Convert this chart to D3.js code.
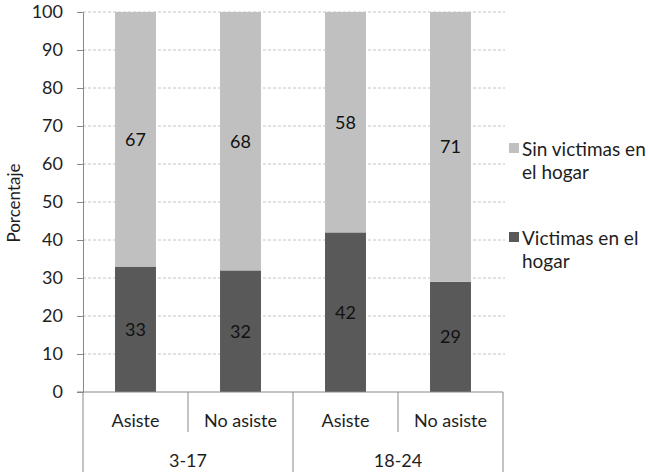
<!DOCTYPE html>
<html><head><meta charset="utf-8">
<script src="https://cdn.jsdelivr.net/npm/d3@7"></script>
<style>body{margin:0;background:#fff}svg{display:block}text{font-family:Lato,"Open Sans",sans-serif}</style>
</head><body><svg id="c" width="648" height="472"></svg>
<script>
const groups = ["3-17", "18-24"];
const categories = ["Asiste", "No asiste", "Asiste", "No asiste"];
const catGroup = [0, 0, 1, 1];
const victimas = [33, 32, 42, 29];
const sinVictimas = [67, 68, 58, 71];
const yTicks = [0, 10, 20, 30, 40, 50, 60, 70, 80, 90, 100];
const legendLabels = [["Sin victimas en", "el hogar"], ["Victimas en el", "hogar"]];
const colors = {sin: "#c0c0c0", vic: "#595959"};

const svg = d3.select("#c");
const L = 83, R = 503, T = 12, B = 392;
const idx = categories.map((d, i) => i);
const x = d3.scaleBand().domain(idx).range([L, R]).paddingInner(0.61).paddingOuter(0.305);
const xb = d3.scaleBand().domain(idx).range([L, R]);
const y = d3.scaleLinear().domain([0, 100]).range([B, T]);
const txt = "#1e1e1e";

// gridlines
svg.append("g").selectAll("line").data(yTicks.filter(d => d > 0)).join("line")
  .attr("x1", L).attr("x2", R + 2).attr("y1", d => y(d)).attr("y2", d => y(d))
  .attr("stroke", "#c4c4c4").attr("stroke-width", 1).attr("stroke-dasharray", "3,2");

// bars
const bars = svg.append("g");
idx.forEach(i => {
  bars.append("rect").attr("x", x(i)).attr("width", x.bandwidth())
    .attr("y", y(victimas[i])).attr("height", y(0) - y(victimas[i])).attr("fill", colors.vic);
  bars.append("rect").attr("x", x(i)).attr("width", x.bandwidth())
    .attr("y", y(victimas[i] + sinVictimas[i])).attr("height", y(victimas[i]) - y(victimas[i] + sinVictimas[i])).attr("fill", colors.sin);
  bars.append("text").attr("x", x(i) + x.bandwidth() / 2).attr("y", (y(0) + y(victimas[i])) / 2)
    .attr("dy", "0.35em").attr("text-anchor", "middle").attr("font-size", 18).attr("fill", "#111").text(victimas[i]);
  bars.append("text").attr("x", x(i) + x.bandwidth() / 2).attr("y", (y(victimas[i]) + y(100)) / 2)
    .attr("dy", "0.35em").attr("text-anchor", "middle").attr("font-size", 18).attr("fill", "#111").text(sinVictimas[i]);
});

// y axis
const yAxis = svg.append("g").attr("transform", `translate(${L},0)`)
  .call(d3.axisLeft(y).tickValues(yTicks).tickSize(6).tickPadding(14));
yAxis.select(".domain").attr("stroke", "#888");
yAxis.selectAll(".tick line").attr("stroke", "#888");
yAxis.selectAll("text").attr("font-size", 18).attr("fill", txt).style("font-family", "Lato, sans-serif");

// x axis line
svg.append("line").attr("x1", L - 6).attr("x2", R).attr("y1", B).attr("y2", B).attr("stroke", "#888");
// category separators
idx.forEach(i => {
  const xs = xb(i);
  const full = i === 0 || catGroup[i] !== catGroup[i - 1];
  svg.append("line").attr("x1", xs).attr("x2", xs).attr("y1", B).attr("y2", full ? 472 : 432).attr("stroke", "#888");
});
svg.append("line").attr("x1", R).attr("x2", R).attr("y1", B).attr("y2", 472).attr("stroke", "#888");
// category labels
svg.append("g").selectAll("text").data(idx).join("text")
  .attr("x", i => xb(i) + xb.bandwidth() / 2).attr("y", 427).attr("text-anchor", "middle")
  .attr("font-size", 18).attr("fill", txt).text(i => categories[i]);
// group labels
groups.forEach((g, gi) => {
  const members = idx.filter(i => catGroup[i] === gi);
  const x0 = xb(members[0]), x1 = xb(members[members.length - 1]) + xb.bandwidth();
  svg.append("text").attr("x", (x0 + x1) / 2).attr("y", 467).attr("text-anchor", "middle")
    .attr("font-size", 18).attr("fill", txt).text(g);
});

// y label
svg.append("text").attr("transform", "translate(20,203) rotate(-90)").attr("text-anchor", "middle")
  .attr("font-size", 17).attr("fill", txt).text("Porcentaje");

// legend
const lg = svg.append("g");
const legendColors = [colors.sin, colors.vic];
const legendY = [143, 232];
legendLabels.forEach((lines, k) => {
  lg.append("rect").attr("x", 509).attr("y", legendY[k]).attr("width", 10).attr("height", 10).attr("fill", legendColors[k]);
  lines.forEach((t, j) => {
    lg.append("text").attr("x", 522).attr("y", legendY[k] + 13 + j * 23).attr("font-size", 19).attr("fill", txt).text(t);
  });
});
</script></body></html>
